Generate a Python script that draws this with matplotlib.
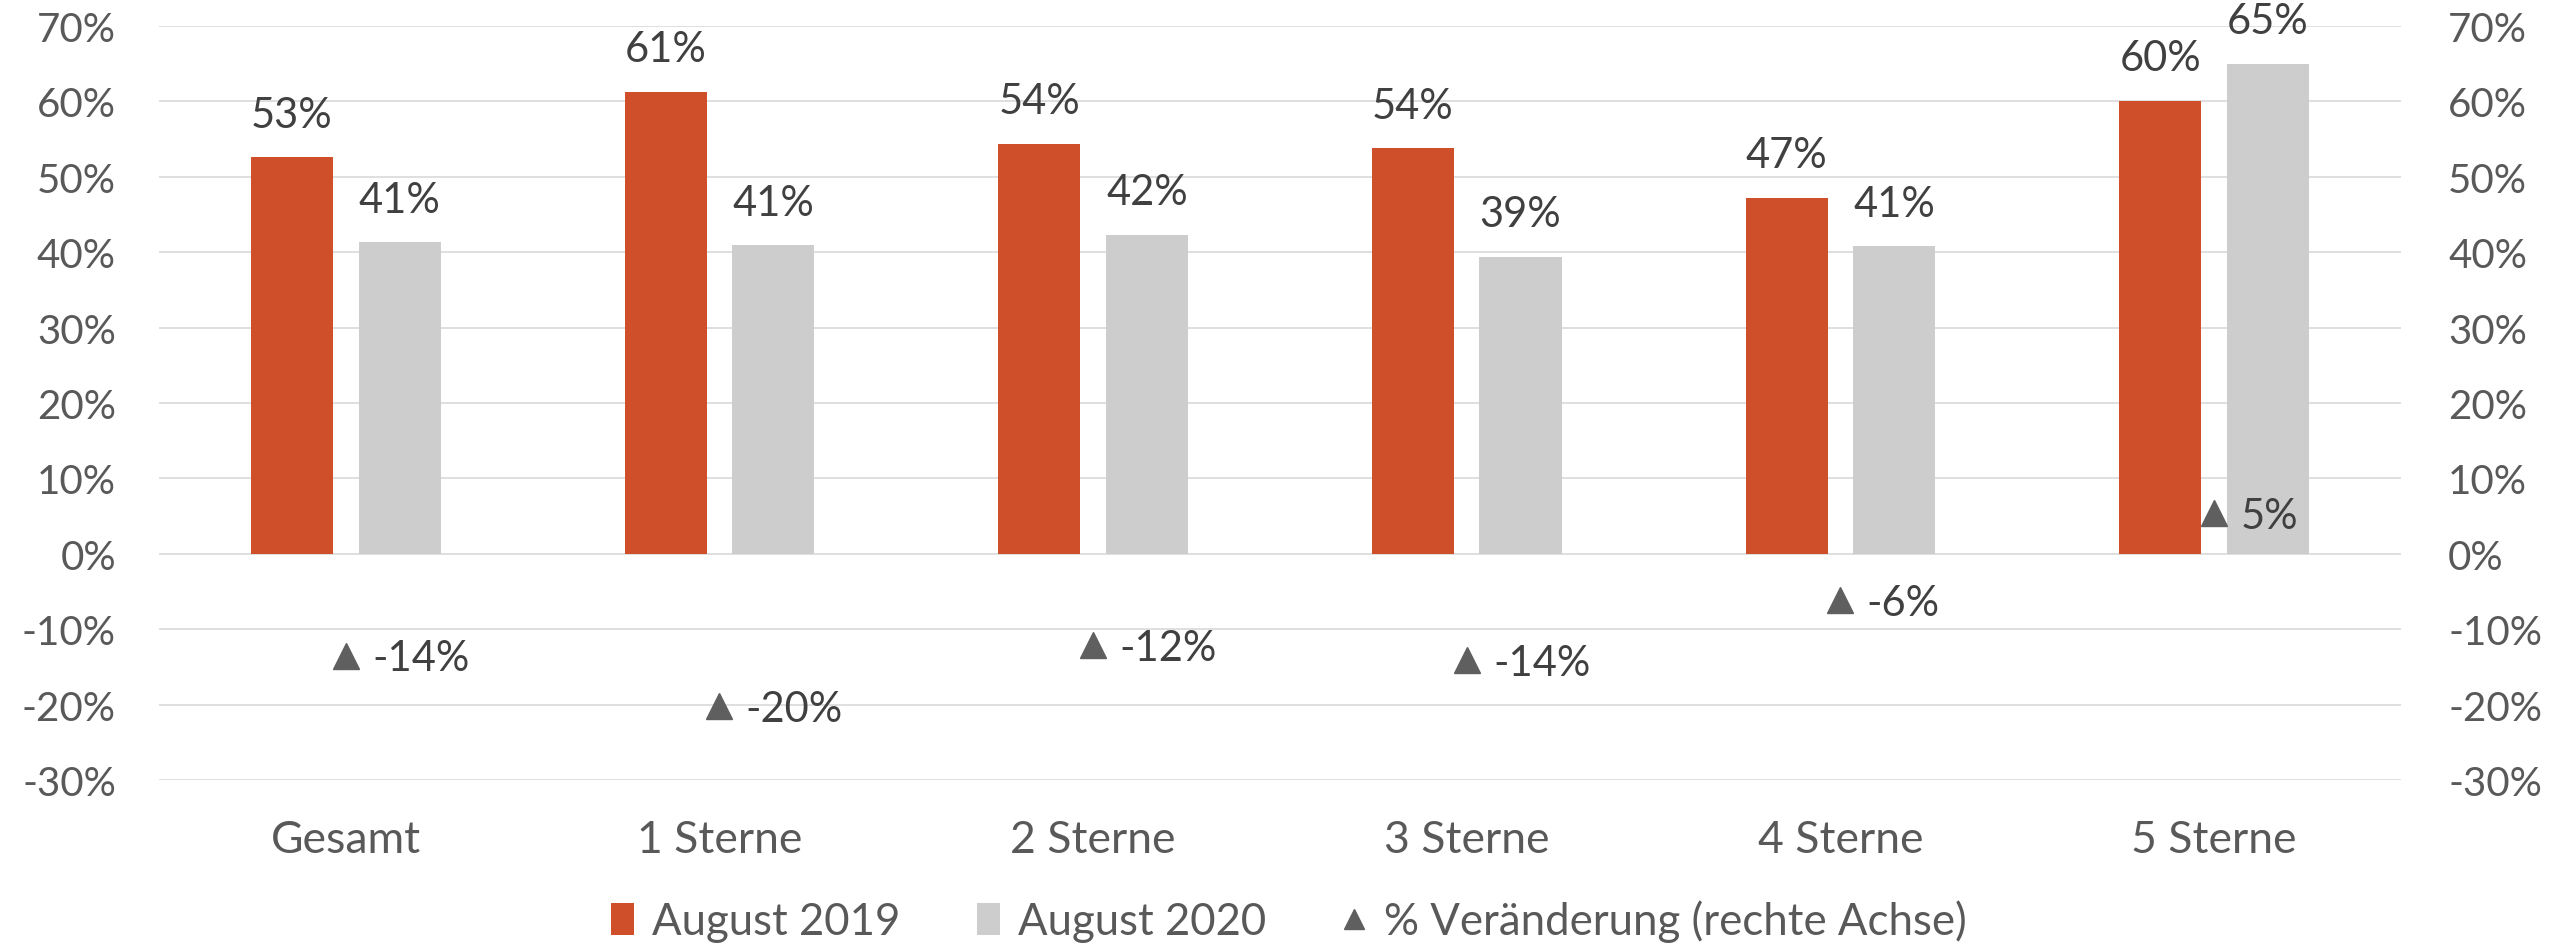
import matplotlib
matplotlib.use("Agg")
import matplotlib.pyplot as plt
import numpy as np
from matplotlib.patches import Patch
from matplotlib.lines import Line2D

categories = ["Gesamt", "1 Sterne", "2 Sterne", "3 Sterne", "4 Sterne", "5 Sterne"]
aug_2019 = [52.6, 61.3, 54.4, 53.8, 47.2, 60.1]
aug_2020 = [41.3, 40.9, 42.3, 39.4, 40.8, 65.0]
change_pct = [-13.5, -20.2, -12.1, -14.1, -6.1, 5.4]
yticks = [-30, -20, -10, 0, 10, 20, 30, 40, 50, 60, 70]

ORANGE = "#CF4F2A"
GREY = "#CCCDCC"
MARK = "#5F5F5F"
TICK = "#595959"
LABEL = "#404040"

plt.rcParams['font.family'] = ['Lato', 'DejaVu Sans']

fig = plt.figure(figsize=(25.52, 9.45), dpi=100)
ax = fig.add_axes([0.0623, 0.1735, 0.8785, 0.7979])
ax2 = ax.twinx()

x = np.arange(len(categories))
w = 0.22
off = 0.144
b1 = ax.bar(x - off, aug_2019, w, color=ORANGE, zorder=3)
b2 = ax.bar(x + off, aug_2020, w, color=GREY, zorder=3)

for bars, vals in ((b1, aug_2019), (b2, aug_2020)):
    for r, v in zip(bars, vals):
        ax.annotate(f"{v:.0f}%", (r.get_x() + r.get_width() / 2, v),
                    xytext=(0, 17), textcoords="offset points",
                    ha="center", va="bottom", fontsize=30, color=LABEL)

ax2.plot(x, change_pct, linestyle="none", marker="^", markersize=19,
         color=MARK, zorder=4)
for xi, v in zip(x, change_pct):
    ax2.annotate(f"{v:.0f}%", (xi, v), xytext=(19, -2), textcoords="offset points",
                 ha="left", va="center", fontsize=30, color=LABEL)

for a in (ax, ax2):
    a.set_ylim(-30, 70)
    a.set_yticks(yticks)
    a.set_yticklabels([f"{t}%" for t in yticks])
    for s in a.spines.values():
        s.set_visible(False)
ax.set_xlim(-0.5, len(categories) - 0.5)
ax.set_xticks(x)
ax.set_xticklabels(categories)
ax.tick_params(axis="x", length=0, pad=28, labelsize=32, labelcolor=TICK)
ax.tick_params(axis="y", length=0, pad=31, labelsize=29, labelcolor=TICK)
ax2.tick_params(axis="y", length=0, pad=34, labelsize=29, labelcolor=TICK)
ax.yaxis.grid(True, color="#D9D9D9", linewidth=1.2, zorder=0)
ax.set_axisbelow(True)

handles = [Patch(facecolor=ORANGE, edgecolor="none"),
           Patch(facecolor=GREY, edgecolor="none"),
           Line2D([], [], linestyle="none", marker="^", markersize=15, color=MARK)]
labels = ["August 2019", "August 2020", "% Veränderung (rechte Achse)"]
fig.legend(handles, labels, loc="lower center", bbox_to_anchor=(0.505, -0.04), ncol=3,
           frameon=False, fontsize=31.5, labelcolor=TICK, handlelength=0.52,
           handleheight=0.75, handletextpad=0.42, columnspacing=1.75)

fig.savefig("out.png", dpi=100)
